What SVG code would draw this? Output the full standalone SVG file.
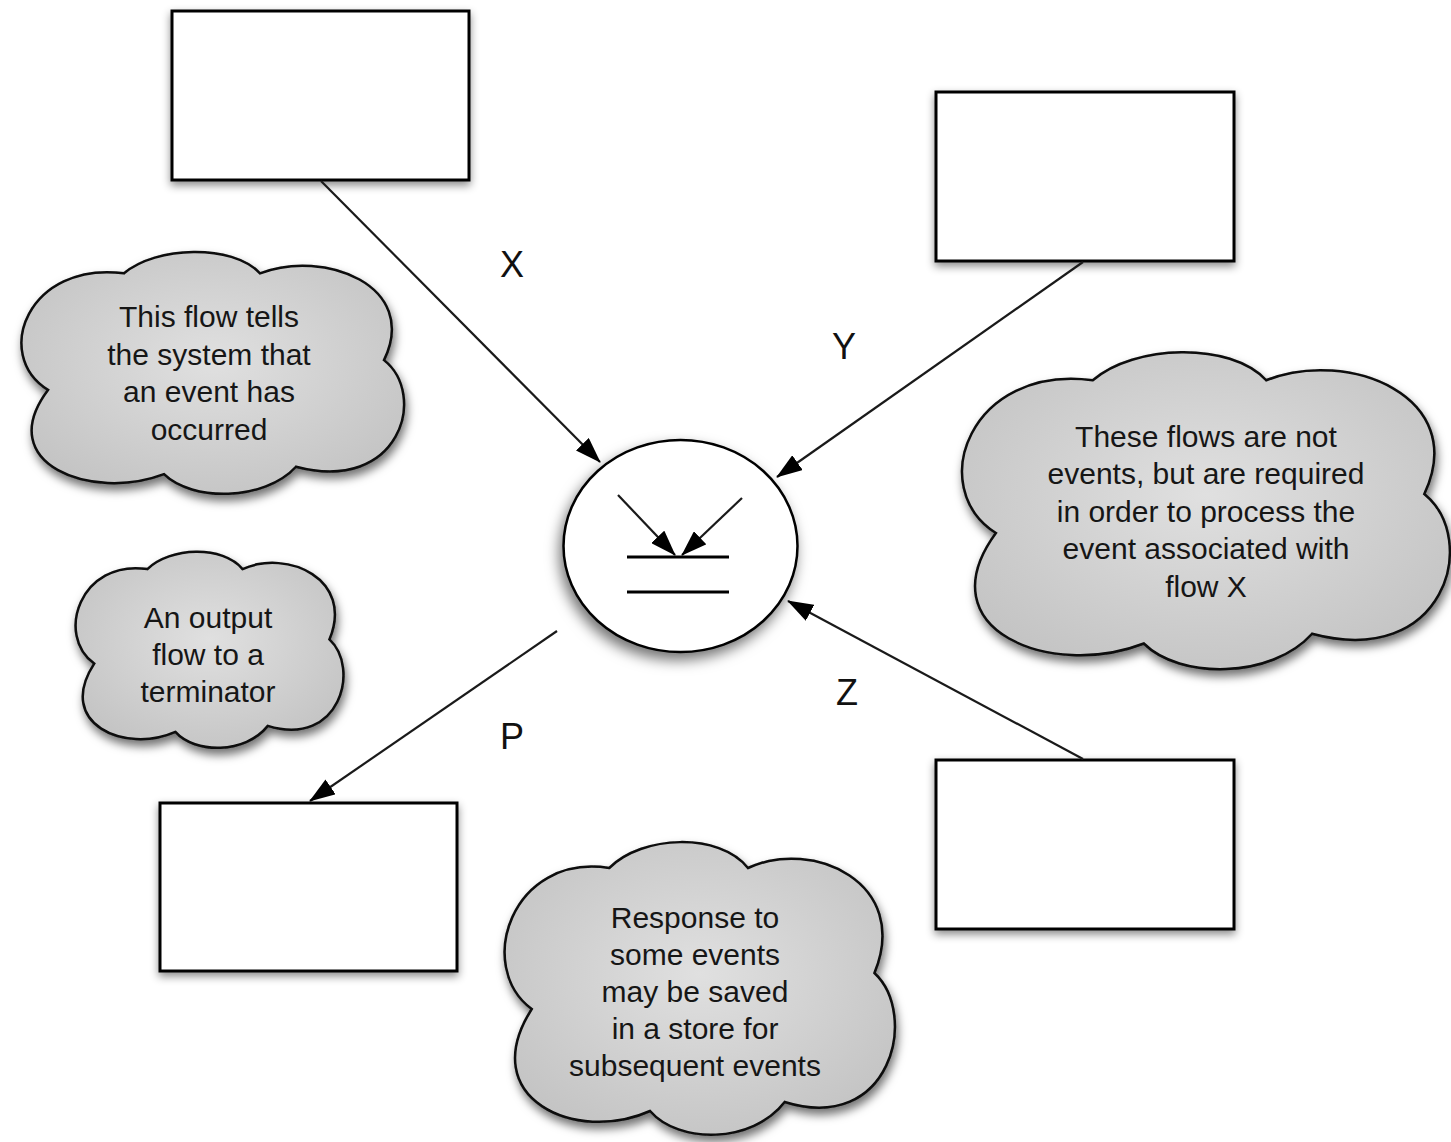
<svg xmlns="http://www.w3.org/2000/svg" width="1451" height="1142" viewBox="0 0 1451 1142">
  <style>
    .box { fill: #ffffff; stroke: #000000; stroke-width: 3; }
    .cloud { fill: url(#cloudFill); stroke: #0a0a0a; stroke-width: 2.5; vector-effect: non-scaling-stroke; }
    .flow { fill: none; stroke: #1a1a1a; stroke-width: 2.2; marker-end: url(#arrow); }
    .note { font-family: "Liberation Sans", Arial, sans-serif; font-size: 30px; fill: #161616; text-anchor: middle; }
    .label { font-family: "Liberation Sans", Arial, sans-serif; font-size: 36px; fill: #111111; text-anchor: middle; }
  </style>
  <defs>
    <radialGradient id="cloudFill" cx="0.5" cy="0.45" r="0.6">
      <stop offset="0" stop-color="#e0e0e0"/>
      <stop offset="1" stop-color="#c4c4c4"/>
    </radialGradient>
    <filter id="boxShadow" x="-10%" y="-10%" width="120%" height="130%">
      <feDropShadow dx="0" dy="4" stdDeviation="4" flood-color="#000" flood-opacity="0.45"/>
    </filter>
    <filter id="cloudShadow" x="-10%" y="-10%" width="125%" height="130%">
      <feDropShadow dx="2" dy="6" stdDeviation="5" flood-color="#000" flood-opacity="0.55"/>
    </filter>
    <filter id="bubbleShadow" x="-15%" y="-15%" width="130%" height="140%">
      <feDropShadow dx="-3" dy="7" stdDeviation="7" flood-color="#000" flood-opacity="0.55"/>
    </filter>
    <marker id="arrow" viewBox="0 0 26 18" refX="25" refY="9" markerWidth="26" markerHeight="18" markerUnits="userSpaceOnUse" orient="auto">
      <path d="M0,0 L26,9 L0,18 Z" fill="#000"/>
    </marker>
  </defs>

  <rect width="1451" height="1142" fill="#ffffff"/>

  <!-- terminators -->
  <g id="terminator-top-left" filter="url(#boxShadow)">
    <rect class="box" x="172" y="11" width="297" height="169"/>
  </g>
  <g id="terminator-top-right" filter="url(#boxShadow)">
    <rect class="box" x="936" y="92" width="298" height="169"/>
  </g>
  <g id="terminator-bottom-left" filter="url(#boxShadow)">
    <rect class="box" x="160" y="803" width="297" height="168"/>
  </g>
  <g id="terminator-bottom-right" filter="url(#boxShadow)">
    <rect class="box" x="936" y="760" width="298" height="169"/>
  </g>

  <!-- process bubble -->
  <g id="process">
    <g filter="url(#bubbleShadow)">
      <ellipse cx="680.5" cy="546" rx="117" ry="106" fill="#ffffff" stroke="#000" stroke-width="2.5"/>
    </g>
    <line class="flow" x1="618" y1="495" x2="675" y2="555"/>
    <line class="flow" x1="742" y1="498" x2="682" y2="555"/>
    <line x1="627" y1="557" x2="729" y2="557" stroke="#000" stroke-width="3"/>
    <line x1="627" y1="592" x2="729" y2="592" stroke="#000" stroke-width="3"/>
  </g>

  <!-- annotation clouds: one 100x100 outline, scaled per cloud -->
  <g id="note-event">
    <g filter="url(#cloudShadow)">
      <path class="cloud" transform="translate(12,251) scale(4.0,2.48)" d="M28,9 C36,-2 55,-3 62,9 C78,-1 102,14 93,44 C104,58 97,98 71,87 C63,101 45,101 38,90 C20,101 -5,86 9,56 C-5,42 4,4 28,9 Z"/>
    </g>
    <text class="note" x="209" y="327">This flow tells</text>
    <text class="note" x="209" y="365">the system that</text>
    <text class="note" x="209" y="402">an event has</text>
    <text class="note" x="209" y="440">occurred</text>
  </g>

  <g id="note-nonevent">
    <g filter="url(#cloudShadow)">
      <path class="cloud" transform="translate(950,351) scale(5.1,3.25)" d="M28,9 C36,-2 55,-3 62,9 C78,-1 102,14 93,44 C104,58 97,98 71,87 C63,101 45,101 38,90 C20,101 -5,86 9,56 C-5,42 4,4 28,9 Z"/>
    </g>
    <text class="note" x="1206" y="447">These flows are not</text>
    <text class="note" x="1206" y="484">events, but are required</text>
    <text class="note" x="1206" y="522">in order to process the</text>
    <text class="note" x="1206" y="559">event associated with</text>
    <text class="note" x="1206" y="597">flow X</text>
  </g>

  <g id="note-output">
    <g filter="url(#cloudShadow)">
      <path class="cloud" transform="translate(69,551) scale(2.8,2.01)" d="M28,9 C36,-2 55,-3 62,9 C78,-1 102,14 93,44 C104,58 97,98 71,87 C63,101 45,101 38,90 C20,101 -5,86 9,56 C-5,42 4,4 28,9 Z"/>
    </g>
    <text class="note" x="208" y="628">An output</text>
    <text class="note" x="208" y="665">flow to a</text>
    <text class="note" x="208" y="702">terminator</text>
  </g>

  <g id="note-store">
    <g filter="url(#cloudShadow)">
      <path class="cloud" transform="translate(495,841) scale(4.08,3.0)" d="M28,9 C36,-2 55,-3 62,9 C78,-1 102,14 93,44 C104,58 97,98 71,87 C63,101 45,101 38,90 C20,101 -5,86 9,56 C-5,42 4,4 28,9 Z"/>
    </g>
    <text class="note" x="695" y="928">Response to</text>
    <text class="note" x="695" y="965">some events</text>
    <text class="note" x="695" y="1002">may be saved</text>
    <text class="note" x="695" y="1039">in a store for</text>
    <text class="note" x="695" y="1076">subsequent events</text>
  </g>

  <!-- data flows -->
  <g id="connectors">
    <line class="flow" x1="321" y1="181" x2="600" y2="462"/>
    <line class="flow" x1="1083" y1="262" x2="777" y2="477"/>
    <line class="flow" x1="1083" y1="759" x2="788" y2="601"/>
    <line class="flow" x1="557" y1="631" x2="310" y2="801"/>
  </g>

  <g id="flow-labels">
    <text class="label" x="512" y="277">X</text>
    <text class="label" x="844" y="359">Y</text>
    <text class="label" x="847" y="705">Z</text>
    <text class="label" x="512" y="749">P</text>
  </g>
</svg>
